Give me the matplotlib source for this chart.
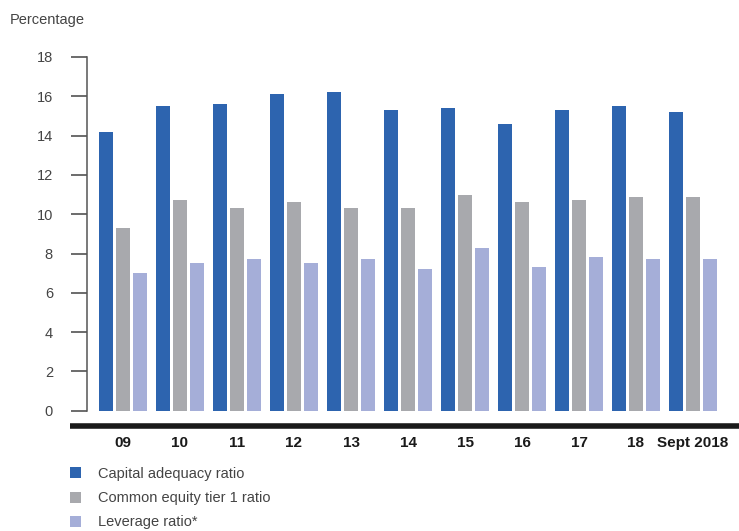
import matplotlib.pyplot as plt
import numpy as np
from matplotlib.lines import Line2D

years = ['09', '10', '11', '12', '13', '14', '15', '16', '17', '18', 'Sept 2018']
capital_adequacy = [14.2, 15.5, 15.6, 16.1, 16.2, 15.3, 15.4, 14.6, 15.3, 15.5, 15.2]
cet1 = [9.3, 10.7, 10.3, 10.6, 10.3, 10.3, 11.0, 10.6, 10.7, 10.9, 10.9]
leverage = [7.0, 7.5, 7.7, 7.5, 7.7, 7.2, 8.3, 7.3, 7.8, 7.7, 7.7]

series = ['Capital adequacy ratio', 'Common equity tier 1 ratio', 'Leverage ratio*']
colors = ['#2D64AF', '#A8A9AD', '#A5AED8']

W, H = 739, 531
fig = plt.figure(figsize=(W / 100, H / 100), dpi=100)
plt.rcParams['font.family'] = ['Liberation Sans', 'DejaVu Sans']

# axes box in pixels: y axis at x=87, value 18 at y=57, value 0 at y=410.7
px_unit = 19.65
ymin = -0.2
left, right = 87, 739
top = 57
bottom = 410.7 - ymin * px_unit
ax = fig.add_axes([left / W, 1 - bottom / H, (right - left) / W, (bottom - top) / H])

pitch = 57.0
x = np.arange(len(years))
width = 14 / pitch
step = 17 / pitch
for k, (vals, c) in enumerate(zip([capital_adequacy, cet1, leverage], colors)):
    ax.bar(x + (k - 1) * step, vals, width=width, color=c, label=series[k])

ax.set_xlim((left - 123) / pitch, (right - 123) / pitch)
ax.set_ylim(ymin, 18)
ax.set_yticks(range(0, 19, 2))
ax.tick_params(axis='y', length=11.5, width=1.1, color='#444444', pad=13,
               labelsize=10.5, labelcolor='#444444')
ax.set_xticks([])
for s in ['top', 'right', 'bottom']:
    ax.spines[s].set_visible(False)
ax.spines['left'].set_bounds(0, 18)
ax.spines['left'].set_color('#555555')
ax.spines['left'].set_linewidth(1.1)

# thick base line under the bars
fig.add_artist(Line2D([70 / W, 1], [1 - 425.5 / H] * 2, lw=4, color='#1a1a1a',
                      solid_capstyle='butt'))

for i, lab in enumerate(years):
    fig.text((123 + pitch * i) / W, 1 - 443 / H, lab, ha='center', va='center',
             fontsize=11, fontweight='bold', color='#1a1a1a')

fig.text(10 / W, 1 - 20 / H, 'Percentage', ha='left', va='center',
         fontsize=10.5, color='#444444')

fig.legend(loc='upper left', bbox_to_anchor=(70 / W, 1 - 467 / H), frameon=False,
           handlelength=0.78, handleheight=0.78, handletextpad=1.15, labelspacing=0.7,
           fontsize=10.5, labelcolor='#444444', borderaxespad=0, borderpad=0)

fig.savefig('out.png', dpi=100)
